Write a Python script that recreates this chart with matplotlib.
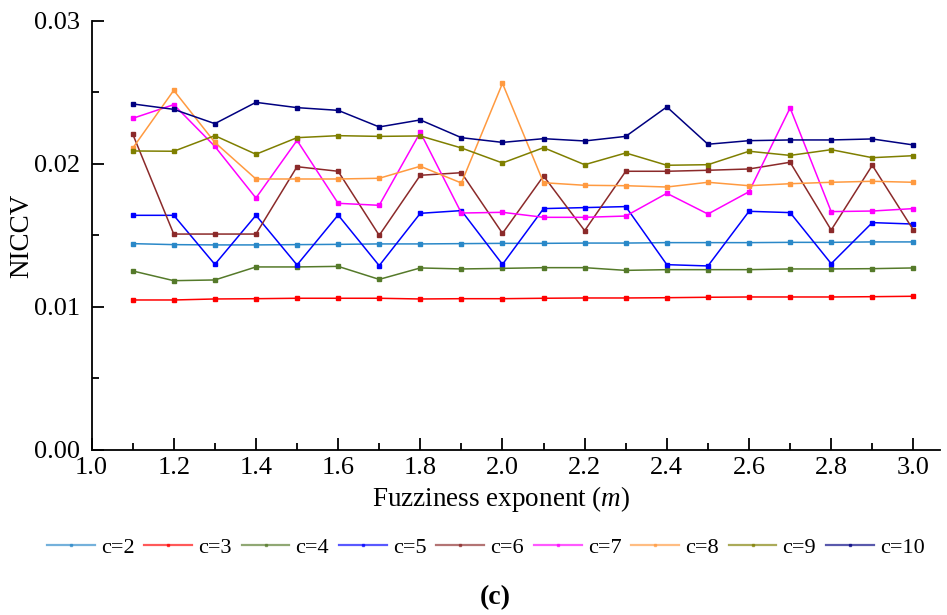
import matplotlib
matplotlib.use("Agg")
import matplotlib.pyplot as plt
from matplotlib.ticker import FormatStrFormatter

plt.rcParams['font.family'] = ['Liberation Serif', 'DejaVu Serif']
plt.rcParams['mathtext.fontset'] = 'custom'
plt.rcParams['mathtext.it'] = 'Liberation Serif:italic'
plt.rcParams['mathtext.rm'] = 'Liberation Serif'

# fuzziness exponent m
m = [1.1, 1.2, 1.3, 1.4, 1.5, 1.6, 1.7, 1.8, 1.9, 2.0,
     2.1, 2.2, 2.3, 2.4, 2.5, 2.6, 2.7, 2.8, 2.9, 3.0]

# NICCV for each number of clusters c
c2 = [0.01443, 0.01436, 0.01434, 0.01434, 0.01436, 0.01438, 0.01441, 0.01441, 0.01443, 0.01445,
      0.01445, 0.01447, 0.01447, 0.01450, 0.01450, 0.01450, 0.01452, 0.01452, 0.01455, 0.01455]
c3 = [0.01049, 0.01049, 0.01056, 0.01058, 0.01061, 0.01061, 0.01061, 0.01056, 0.01058, 0.01058,
      0.01061, 0.01063, 0.01063, 0.01065, 0.01068, 0.01070, 0.01070, 0.01070, 0.01072, 0.01075]
c4 = [0.01252, 0.01184, 0.01189, 0.01280, 0.01280, 0.01284, 0.01193, 0.01273, 0.01266, 0.01270,
      0.01275, 0.01275, 0.01256, 0.01261, 0.01261, 0.01261, 0.01266, 0.01266, 0.01268, 0.01273]
c5 = [0.01641, 0.01641, 0.01298, 0.01641, 0.01294, 0.01643, 0.01289, 0.01655, 0.01674, 0.01298,
      0.01688, 0.01695, 0.01702, 0.01296, 0.01287, 0.01669, 0.01660, 0.01303, 0.01590, 0.01580]
c6 = [0.02210, 0.01510, 0.01510, 0.01510, 0.01981, 0.01949, 0.01501, 0.01921, 0.01939, 0.01515,
      0.01916, 0.01534, 0.01949, 0.01949, 0.01956, 0.01965, 0.02012, 0.01538, 0.01991, 0.01538]
c7 = [0.02319, 0.02415, 0.02123, 0.01762, 0.02165, 0.01725, 0.01711, 0.02221, 0.01657, 0.01662,
      0.01627, 0.01627, 0.01636, 0.01795, 0.01650, 0.01806, 0.02392, 0.01667, 0.01671, 0.01688]
c8 = [0.02110, 0.02515, 0.02151, 0.01895, 0.01895, 0.01895, 0.01900, 0.01984, 0.01867, 0.02564,
      0.01869, 0.01851, 0.01848, 0.01839, 0.01872, 0.01848, 0.01862, 0.01872, 0.01879, 0.01872]
c9 = [0.02091, 0.02089, 0.02198, 0.02068, 0.02184, 0.02198, 0.02193, 0.02196, 0.02112, 0.02007,
      0.02114, 0.01995, 0.02077, 0.01991, 0.01995, 0.02089, 0.02060, 0.02100, 0.02044, 0.02058]
c10 = [0.02420, 0.02382, 0.02282, 0.02431, 0.02394, 0.02375, 0.02259, 0.02308, 0.02184, 0.02151,
       0.02177, 0.02161, 0.02193, 0.02399, 0.02138, 0.02163, 0.02168, 0.02168, 0.02175, 0.02133]

series = [c2, c3, c4, c5, c6, c7, c8, c9, c10]
labels = ['c=2', 'c=3', 'c=4', 'c=5', 'c=6', 'c=7', 'c=8', 'c=9', 'c=10']
colors = ['#2a88c8', '#ff0000', '#557a2a', '#0000ff', '#8b2a2a',
          '#ff00ff', '#ff9a40', '#7f7f00', '#000080']

fig = plt.figure(figsize=(9.47, 6.15), dpi=100)
ax = fig.add_axes([0.0967, 0.2683, 0.896, 0.6976])

lines = []
for ys, lab, col in zip(series, labels, colors):
    ln, = ax.plot(m, ys, '-s', color=col, lw=1.1, ms=3, label=lab)
    lines.append(ln)

ax.set_xlim(1.0, 3.065)
ax.set_ylim(0.0, 0.03)
# x ticks stop at 3.0, the axis line runs a little past it
ax.set_xticks([1.0 + 0.2 * i for i in range(11)])
ax.set_xticks([1.1 + 0.2 * i for i in range(10)], minor=True)
ax.set_yticks([0.0, 0.01, 0.02, 0.03])
ax.set_yticks([0.005, 0.015, 0.025], minor=True)
ax.xaxis.set_major_formatter(FormatStrFormatter('%.1f'))
ax.yaxis.set_major_formatter(FormatStrFormatter('%.2f'))
ax.tick_params(which='major', direction='in', length=8.5, width=1.3, labelsize=19)
ax.tick_params(which='minor', direction='in', length=5, width=1.3)
ax.tick_params(axis='y', which='major', pad=8)
ax.tick_params(axis='x', which='major', pad=5)

for s in ['top', 'right']:
    ax.spines[s].set_visible(False)
for s in ['left', 'bottom']:
    ax.spines[s].set_linewidth(1.3)

ax.set_xlabel('Fuzziness exponent ($\\it{m}$)', fontsize=19.5, labelpad=4)
ax.xaxis.label.set_x(0.483)
ax.set_ylabel('NICCV', fontsize=19.5, labelpad=0)

leg = fig.legend(lines, labels, loc='center', bbox_to_anchor=(0.513, 0.1094), ncol=9,
                 frameon=False, fontsize=16, handlelength=2.15, handletextpad=0.27,
                 columnspacing=0.45, markerscale=0.6, borderpad=0)
for h in leg.legend_handles:
    h.set_alpha(0.65)
    h.set_linewidth(1.6)

fig.text(0.523, 0.029, '(c)', ha='center', va='center', fontsize=20, fontweight='bold')

fig.savefig('out.png', dpi=100)
